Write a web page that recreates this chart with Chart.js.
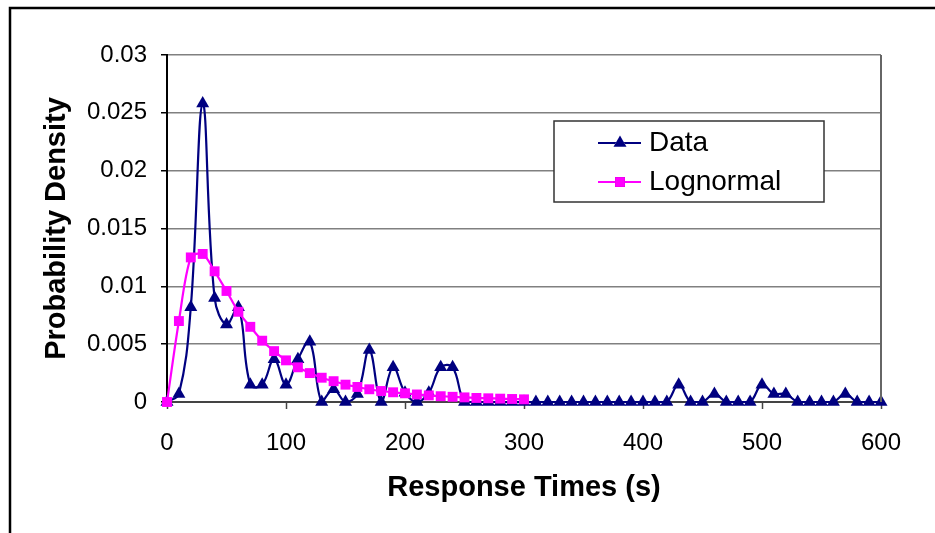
<!DOCTYPE html>
<html>
<head>
<meta charset="utf-8">
<script src="https://cdn.jsdelivr.net/npm/chart.js@4.4.1/dist/chart.umd.min.js"></script>
<style>
  html, body { margin: 0; padding: 0; background: #fff; }
  canvas { display: block; }
</style>
</head>
<body>
<canvas id="myChart" width="935" height="533"></canvas>
<script>
// response time bins (s)
const dataTimes = [0, 10, 20, 30, 40, 50, 60, 70, 80, 90, 100, 110, 120, 130, 140, 150, 160, 170, 180, 190,
  200, 210, 220, 230, 240, 250, 260, 270, 280, 290, 300, 310, 320, 330, 340, 350, 360, 370, 380, 390,
  400, 410, 420, 430, 440, 450, 460, 470, 480, 490, 500, 510, 520, 530, 540, 550, 560, 570, 580, 590, 600];
const dataDensity = [0, 0.0007, 0.0082, 0.0258, 0.009, 0.0067, 0.0082, 0.0015, 0.0015, 0.0037,
  0.0015, 0.0037, 0.0052, 0, 0.0011, 0, 0.0007, 0.0045, 0, 0.003,
  0.0008, 0, 0.0008, 0.003, 0.003, 0, 0, 0, 0, 0,
  0, 0, 0, 0, 0, 0, 0, 0, 0, 0,
  0, 0, 0, 0.0015, 0, 0, 0.0007, 0, 0, 0,
  0.0015, 0.0007, 0.0007, 0, 0, 0, 0, 0.0007, 0, 0, 0];

const lognormTimes = [0, 10, 20, 30, 40, 50, 60, 70, 80, 90, 100, 110, 120, 130, 140, 150, 160, 170, 180, 190,
  200, 210, 220, 230, 240, 250, 260, 270, 280, 290, 300];
const lognormDensity = [0, 0.007, 0.0125, 0.0128, 0.0113, 0.0096, 0.0078, 0.0065, 0.0053, 0.0044,
  0.0036, 0.003, 0.0025, 0.0021, 0.0018, 0.0015, 0.0013, 0.0011, 0.00095, 0.00084,
  0.00075, 0.00065, 0.00057, 0.0005, 0.00045, 0.0004, 0.00035, 0.00032, 0.00029, 0.00026, 0.00023];

const yTicks = [0, 0.005, 0.01, 0.015, 0.02, 0.025, 0.03];

const FONT = "'Liberation Sans', Arial, sans-serif";

const toPoints = (xs, ys) => xs.map((x, i) => ({ x: x, y: ys[i] }));

// outer frame, right edge of plot, floating legend
const framePlugin = {
  id: 'frame',
  beforeDraw(chart) {
    const ctx = chart.ctx;
    ctx.save();
    ctx.fillStyle = '#fff';
    ctx.fillRect(0, 0, chart.width, chart.height);
    ctx.strokeStyle = '#000';
    ctx.lineWidth = 2.5;
    ctx.strokeRect(10, 8, 1000, 1000);
    ctx.restore();
  },
  afterDraw(chart) {
    const ctx = chart.ctx;
    const area = chart.chartArea;
    ctx.save();
    ctx.strokeStyle = '#666';
    ctx.lineWidth = 2;
    ctx.beginPath();
    ctx.moveTo(area.right, area.top);
    ctx.lineTo(area.right, area.bottom);
    ctx.stroke();

    // legend box
    const bx = 554, by = 121, bw = 270, bh = 81;
    ctx.fillStyle = '#fff';
    ctx.fillRect(bx, by, bw, bh);
    ctx.strokeStyle = '#333';
    ctx.lineWidth = 1.5;
    ctx.strokeRect(bx, by, bw, bh);
    const rows = [143, 182];
    chart.data.datasets.forEach((ds, i) => {
      const y = rows[i];
      ctx.strokeStyle = ds.borderColor;
      ctx.lineWidth = 2;
      ctx.beginPath();
      ctx.moveTo(598, y);
      ctx.lineTo(641, y);
      ctx.stroke();
      Chart.helpers.drawPoint(ctx, {
        pointStyle: ds.pointStyle,
        radius: ds.pointRadius,
        borderWidth: 0
      }, 620, y);
      ctx.fillStyle = ds.pointBackgroundColor;
      ctx.fill();
      ctx.fillStyle = '#000';
      ctx.font = '28px ' + FONT;
      ctx.textBaseline = 'middle';
      ctx.textAlign = 'left';
      ctx.fillText(ds.label, 649, y);
    });
    ctx.restore();
  }
};

const chart = new Chart(document.getElementById('myChart'), {
  type: 'line',
  data: {
    datasets: [{
      label: 'Data',
      data: toPoints(dataTimes, dataDensity),
      borderColor: '#000080',
      backgroundColor: '#000080',
      pointBackgroundColor: '#000080',
      pointBorderColor: '#000080',
      pointStyle: 'triangle',
      pointRadius: 7.5,
      pointBorderWidth: 0,
      borderWidth: 2.2,
      tension: 0.4,
      clip: false,
      order: 1
    }, {
      label: 'Lognormal',
      data: toPoints(lognormTimes, lognormDensity),
      borderColor: '#ff00ff',
      backgroundColor: '#ff00ff',
      pointBackgroundColor: '#ff00ff',
      pointBorderColor: '#ff00ff',
      pointStyle: 'rect',
      pointRadius: 7,
      pointBorderWidth: 0,
      borderWidth: 2.2,
      tension: 0.3,
      clip: false,
      order: 0
    }]
  },
  options: {
    responsive: false,
    animation: false,
    devicePixelRatio: 1,
    layout: { padding: { left: 0, right: 54, top: 55, bottom: 0 } },
    scales: {
      x: {
        type: 'linear',
        min: 0,
        max: 600,
        afterFit(scale) { scale.height = 131; },
        ticks: {
          stepSize: 100,
          color: '#000',
          padding: 20,
          maxRotation: 0,
          font: { family: FONT, size: 24 }
        },
        grid: {
          drawOnChartArea: false,
          drawTicks: true,
          tickLength: 7,
          tickColor: '#444',
          tickWidth: 1.5
        },
        border: { color: '#444', width: 2 },
        title: {
          display: true,
          text: 'Response Times (s)',
          color: '#000',
          font: { family: FONT, size: 29, weight: 'bold' },
          padding: { top: 0, bottom: 28 }
        }
      },
      y: {
        min: 0,
        max: 0.03,
        afterFit(scale) { scale.width = 167; },
        afterBuildTicks(scale) { scale.ticks = yTicks.map(v => ({ value: v })); },
        ticks: {
          color: '#000',
          padding: 14,
          font: { family: FONT, size: 24 },
          callback: v => String(+v.toFixed(3))
        },
        grid: {
          color: '#808080',
          lineWidth: 1.5,
          tickLength: 6,
          tickColor: '#000',
          tickWidth: 1.5
        },
        border: { color: '#000', width: 2 },
        title: {
          display: true,
          text: 'Probability Density',
          color: '#000',
          font: { family: FONT, size: 29, weight: 'bold' },
          padding: { top: 40, bottom: 0 }
        }
      }
    },
    plugins: {
      legend: { display: false },
      tooltip: { enabled: false }
    }
  },
  plugins: [framePlugin]
});
</script>
</body>
</html>
